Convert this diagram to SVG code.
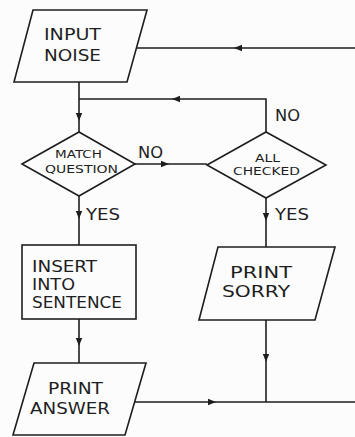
<svg xmlns="http://www.w3.org/2000/svg" width="355" height="437" viewBox="0 0 355 437">
  <style>
    .shape { fill: none; stroke: #1e1e1e; stroke-width: 1.6; stroke-linejoin: miter; }
    .wire { fill: none; stroke: #1e1e1e; stroke-width: 1.6; }
    .lbl { font-family: "DejaVu Sans", "Liberation Sans", sans-serif; font-size: 16px; fill: #1e1e1e; }
    .small { font-family: "DejaVu Sans", "Liberation Sans", sans-serif; font-size: 11px; fill: #1e1e1e; }
    .tip { fill: #1e1e1e; }
  </style>
  <defs>
    <!-- arrowhead with its tip at the origin, pointing along +x -->
    <path id="ah" d="M0,0 L-8,-3.2 L-8,3.2 Z"/>
  </defs>
  <rect width="355" height="437" fill="#fcfcfc"/>

  <g id="connectors">
    <path class="wire" d="M137,48 H355"/>
    <path class="wire" d="M79,82 V132"/>
    <path class="wire" d="M79,99 H266 V132"/>
    <path class="wire" d="M135,164 H207"/>
    <path class="wire" d="M79,196 V245"/>
    <path class="wire" d="M266,198 V247"/>
    <path class="wire" d="M79,319 V363"/>
    <path class="wire" d="M266,320 V402"/>
    <path class="wire" d="M135,402 H355"/>
    <use href="#ah" class="tip" transform="translate(234,48) rotate(180)"/>
    <use href="#ah" class="tip" transform="translate(79,121) rotate(90)"/>
    <use href="#ah" class="tip" transform="translate(172,99) rotate(180)"/>
    <use href="#ah" class="tip" transform="translate(169,164)"/>
    <use href="#ah" class="tip" transform="translate(79,219) rotate(90)"/>
    <use href="#ah" class="tip" transform="translate(266,221) rotate(90)"/>
    <use href="#ah" class="tip" transform="translate(79,346) rotate(90)"/>
    <use href="#ah" class="tip" transform="translate(266,362) rotate(90)"/>
    <use href="#ah" class="tip" transform="translate(216,402)"/>
    <text class="lbl" x="138" y="158" textLength="25" lengthAdjust="spacingAndGlyphs">NO</text>
    <text class="lbl" x="275" y="121" textLength="25" lengthAdjust="spacingAndGlyphs">NO</text>
    <text class="lbl" x="86" y="220" textLength="34" lengthAdjust="spacingAndGlyphs">YES</text>
    <text class="lbl" x="275" y="220" textLength="34" lengthAdjust="spacingAndGlyphs">YES</text>
  </g>

  <g id="input-noise">
    <polygon class="shape" points="33,10 147,10 127,82 14,82"/>
    <text class="lbl" x="44" y="40" textLength="57" lengthAdjust="spacingAndGlyphs">INPUT</text>
    <text class="lbl" x="44" y="61" textLength="57" lengthAdjust="spacingAndGlyphs">NOISE</text>
  </g>

  <g id="match-question">
    <polygon class="shape" points="22,164 79,132 135,164 79,196"/>
    <text class="small" x="55" y="158" textLength="47" lengthAdjust="spacingAndGlyphs">MATCH</text>
    <text class="small" x="45" y="173" textLength="73" lengthAdjust="spacingAndGlyphs">QUESTION</text>
  </g>

  <g id="all-checked">
    <polygon class="shape" points="207,165 266,132 326,165 266,198"/>
    <text class="small" x="255" y="162" textLength="25" lengthAdjust="spacingAndGlyphs">ALL</text>
    <text class="small" x="233" y="175" textLength="67" lengthAdjust="spacingAndGlyphs">CHECKED</text>
  </g>

  <g id="insert-into-sentence">
    <rect class="shape" x="22" y="245" width="114" height="74"/>
    <text class="lbl" x="32" y="272" textLength="65" lengthAdjust="spacingAndGlyphs">INSERT</text>
    <text class="lbl" x="32" y="290" textLength="43" lengthAdjust="spacingAndGlyphs">INTO</text>
    <text class="lbl" x="32" y="308" textLength="90" lengthAdjust="spacingAndGlyphs">SENTENCE</text>
  </g>

  <g id="print-sorry">
    <polygon class="shape" points="218,247 335,247 315,320 199,320"/>
    <text class="lbl" x="230" y="278" textLength="62" lengthAdjust="spacingAndGlyphs">PRINT</text>
    <text class="lbl" x="222" y="297" textLength="68" lengthAdjust="spacingAndGlyphs">SORRY</text>
  </g>

  <g id="print-answer">
    <polygon class="shape" points="34,363 146,363 125,435 13,435"/>
    <text class="lbl" x="48" y="394" textLength="55" lengthAdjust="spacingAndGlyphs">PRINT</text>
    <text class="lbl" x="30" y="414" textLength="80" lengthAdjust="spacingAndGlyphs">ANSWER</text>
  </g>
</svg>
